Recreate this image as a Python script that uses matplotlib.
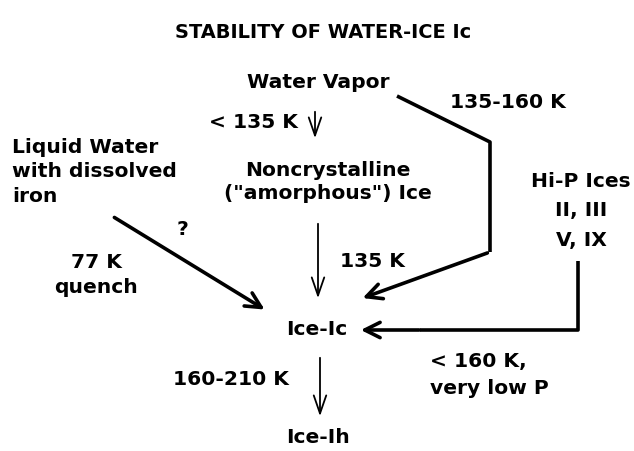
import matplotlib.pyplot as plt
from matplotlib import font_manager

# pick a narrow face if one is there, else plain DejaVu
family = 'DejaVu Sans'
for f in ['Liberation Sans Narrow', 'DejaVu Sans Condensed']:
    try:
        font_manager.findfont(f, fallback_to_default=False)
        family = f
        break
    except ValueError:
        pass
plt.rcParams['font.family'] = [family, 'DejaVu Sans']

title = "STABILITY OF WATER-ICE Ic"

# node labels and where they sit (pixel coords, y down)
nodes = ["Water Vapor", "Noncrystalline\n(\"amorphous\") Ice", "Ice-Ic", "Ice-Ih"]
node_xy = [(318, 82), (328, 182), (317, 330), (318, 438)]
node_ls = [1.0, 1.3, 1.0, 1.0]

side_labels = ["Liquid Water\nwith dissolved\niron", "Hi-P Ices\nII, III\nV, IX"]
side_xy = [(12, 172), (581, 211)]
side_ha = ["left", "center"]
side_ls = [1.36, 1.7]

temps = ["< 135 K", "135 K", "135-160 K", "?", "77 K\nquench",
         "< 160 K,\nvery low P", "160-210 K"]
temp_xy = [(298, 122), (372, 262), (508, 103), (182, 230), (96, 275),
           (430, 375), (173, 380)]
temp_ha = ["right", "center", "center", "center", "center", "left", "left"]
temp_ls = [1.0, 1.0, 1.0, 1.0, 1.45, 1.5, 1.0]

fig = plt.figure(figsize=(6.34, 4.52), dpi=100)
ax = fig.add_axes([0, 0, 1, 1])
ax.set_xlim(0, 634)
ax.set_ylim(452, 0)
ax.axis('off')

tt = ax.text(323, 32, title, ha='center', va='center', fontsize=21,
             fontweight='bold')

body = []
for t, (x, y), s in zip(nodes, node_xy, node_ls):
    body.append(ax.text(x, y, t, ha='center', va='center', fontsize=18,
                        fontweight='bold', linespacing=s))
for t, (x, y), h, s in zip(side_labels, side_xy, side_ha, side_ls):
    body.append(ax.text(x, y, t, ha=h, va='center', fontsize=18,
                        fontweight='bold', linespacing=s))
for t, (x, y), h, s in zip(temps, temp_xy, temp_ha, temp_ls):
    body.append(ax.text(x, y, t, ha=h, va='center', fontsize=18,
                        fontweight='bold', linespacing=s))

# shrink the fonts so the widths match the picture
fig.canvas.draw()
r = fig.canvas.get_renderer()
w = tt.get_window_extent(r).width
tt.set_fontsize(21 * 295 / w)
w = body[4].get_window_extent(r).width  # "with dissolved" block
k = 165 / w
for b in body:
    b.set_fontsize(18 * k)

thin = dict(arrowstyle='->,head_length=1.3,head_width=0.45', lw=1.3, color='black')
thick = dict(arrowstyle='->,head_length=1.1,head_width=0.55', lw=2.6, color='black')

# vertical thin arrows
ax.annotate('', xy=(315, 142), xytext=(315, 110), arrowprops=thin)
ax.annotate('', xy=(318, 302), xytext=(318, 222), arrowprops=thin)
ax.annotate('', xy=(320, 420), xytext=(320, 356), arrowprops=thin)

# liquid water -> Ice-Ic
ax.annotate('', xy=(267, 312), xytext=(112, 217), arrowprops=thick)

# water vapor -> 135-160 K -> Ice-Ic
ax.plot([397, 490, 490], [97, 143, 253], color='black', lw=2.6,
        solid_capstyle='butt')
ax.annotate('', xy=(360, 300), xytext=(490, 253), arrowprops=thick)

# hi-p ices -> Ice-Ic
ax.plot([578, 578, 420], [262, 331, 331], color='black', lw=2.6,
        solid_capstyle='butt')
ax.annotate('', xy=(358, 331), xytext=(422, 331), arrowprops=thick)

fig.savefig('out.png', dpi=100)
